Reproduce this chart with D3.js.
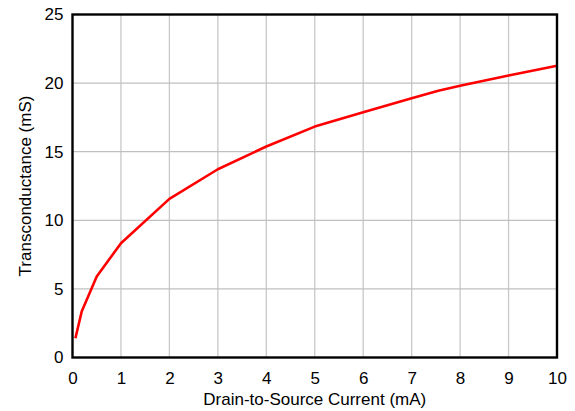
<!DOCTYPE html>
<html><head><meta charset="utf-8">
<script src="https://cdn.jsdelivr.net/npm/d3@7"></script>
<style>body{margin:0;background:#fff}svg{display:block}</style>
</head><body>
<svg id="c" width="575" height="411"></svg>
<script>
const currentMA = [0.06, 0.19, 0.5, 1, 2, 3, 4, 5, 6, 7, 7.55, 8, 9, 10];
const gmMS = [1.4, 3.35, 5.9, 8.33, 11.56, 13.72, 15.38, 16.83, 17.88, 18.9, 19.45, 19.8, 20.55, 21.27];
const xTicks = [0,1,2,3,4,5,6,7,8,9,10];
const yTicks = [0,5,10,15,20,25];
const xTitle = "Drain-to-Source Current (mA)";
const yTitle = "Transconductance (mS)";

const svg = d3.select("#c");
const x = d3.scaleLinear().domain([0,10]).range([72.5,557]);
const y = d3.scaleLinear().domain([0,25]).range([357.5,14.5]);
const font = "'Liberation Sans', Arial, sans-serif";

// grid
svg.append("g").selectAll("line").data(xTicks.slice(1,-1)).join("line")
  .attr("x1",d=>x(d)).attr("x2",d=>x(d)).attr("y1",y(25)).attr("y2",y(0))
  .attr("stroke","#c8c8c8").attr("stroke-width",1.3);
svg.append("g").selectAll("line").data(yTicks.slice(1,-1)).join("line")
  .attr("y1",d=>y(d)).attr("y2",d=>y(d)).attr("x1",x(0)).attr("x2",x(10))
  .attr("stroke","#c0c0c0").attr("stroke-width",1.3);

// line
svg.append("path").datum(currentMA.map((c,i)=>[c,gmMS[i]]))
  .attr("d", d3.line().x(d=>x(d[0])).y(d=>y(d[1])))
  .attr("fill","none").attr("stroke","#ff0000").attr("stroke-width",2.6)
  .attr("stroke-linejoin","round");

// frame
svg.append("rect").attr("x",x(0)).attr("y",y(25)).attr("width",x(10)-x(0)).attr("height",y(0)-y(25))
  .attr("fill","none").attr("stroke","#000").attr("stroke-width",2.4);

// axes labels
const xAxis = d3.axisBottom(x).tickValues(xTicks).tickSize(0).tickPadding(14).tickFormat(d3.format("d"));
const gx = svg.append("g").attr("transform",`translate(0,${y(0)})`).call(xAxis);
gx.select(".domain").remove();
gx.selectAll("text").attr("font-family",font).attr("font-size",17).attr("fill","#000");

const yAxis = d3.axisLeft(y).tickValues(yTicks).tickSize(0).tickPadding(9).tickFormat(d3.format("d"));
const gy = svg.append("g").attr("transform",`translate(${x(0)},0)`).call(yAxis);
gy.select(".domain").remove();
gy.selectAll("text").attr("font-family",font).attr("font-size",17).attr("fill","#000");

svg.append("text").attr("x",(x(0)+x(10))/2).attr("y",405).attr("text-anchor","middle")
  .attr("font-family",font).attr("font-size",17).text(xTitle);
svg.append("text").attr("transform",`translate(31,${(y(0)+y(25))/2}) rotate(-90)`).attr("text-anchor","middle")
  .attr("font-family",font).attr("font-size",17).text(yTitle);
</script>
</body></html>
